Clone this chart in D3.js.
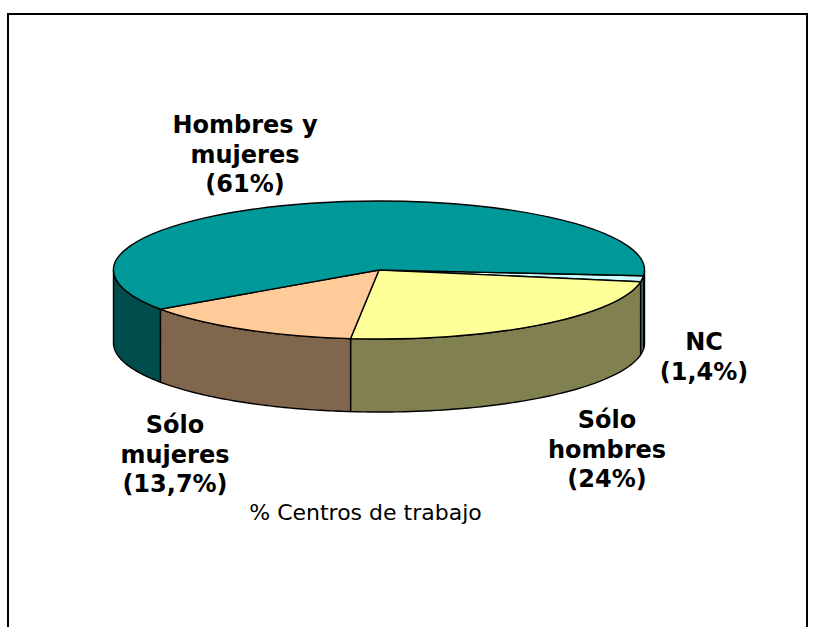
<!DOCTYPE html>
<html>
<head>
<meta charset="utf-8">
<script src="https://cdn.jsdelivr.net/npm/d3@7"></script>
<style>
  body { margin: 0; background: #fff; }
  svg { display: block; }
  text { font-family: "DejaVu Sans", Verdana, sans-serif; fill: #000; }
  .lbl { font-weight: bold; font-size: 24px; text-anchor: middle; }
</style>
</head>
<body>
<div id="pie"></div>
<script>
const categories = ["NC", "Sólo hombres", "Sólo mujeres", "Hombres y mujeres"];
const values = [1.4, 24, 13.7, 61];
const topColors = ["#CCFFFF", "#FFFF99", "#FFCC99", "#009999"];
const sideColors = ["#668080", "#808050", "#80664D", "#004D4D"];
const labelLines = [
  ["NC", "(1,4%)"],
  ["Sólo", "hombres", "(24%)"],
  ["Sólo", "mujeres", "(13,7%)"],
  ["Hombres y", "mujeres", "(61%)"]
];
const labelPos = [[704, 350], [607, 428], [175, 433], [245, 133]];
const caption = "% Centros de trabajo";

var width = 821, height = 627;
var cx = 379, cy = 270, rx = 265.5, ry = 69, depth = 73;
var startDeg = 94.8; // d3 angle, 0 is 12 o'clock
var lineW = 1.4;

var svg = d3.select("#pie").append("svg")
  .attr("width", width)
  .attr("height", height);

// frame, open at the bottom
svg.append("path")
  .attr("d", "M8,627V14H807V627")
  .attr("fill", "none")
  .attr("stroke", "#000")
  .attr("stroke-width", 2);

var pie = d3.pie().sort(null)
  .startAngle(startDeg * Math.PI / 180)
  .endAngle((startDeg + 360) * Math.PI / 180);
var slices = pie(values);

// point on the rim for a d3 pie angle
function rim(a, dy) {
  return [cx + rx * Math.sin(a), cy - ry * Math.cos(a) + dy];
}

// side wall of a slice, only the part facing the viewer (pie angle 90..270 deg)
function wall(a0, a1) {
  var lo = Math.PI / 2, hi = Math.PI * 1.5;
  var parts = [];
  [0, 2 * Math.PI].forEach(function(off) {
    var s = Math.max(a0, lo + off), e = Math.min(a1, hi + off);
    if (e > s) {
      var ts = d3.range(0, 61).map(function(i) { return s + (e - s) * i / 60; });
      var pts = ts.map(function(t) { return rim(t, 0); })
        .concat(ts.slice().reverse().map(function(t) { return rim(t, depth); }));
      parts.push(d3.line()(pts) + "Z");
    }
  });
  return parts.join("");
}

svg.append("g").selectAll("path")
  .data(slices)
  .enter()
  .append("path")
    .attr("d", d => wall(d.startAngle, d.endAngle))
    .attr("fill", (d, i) => sideColors[i])
    .attr("stroke", "#000")
    .attr("stroke-width", lineW);

var arc = d3.arc().innerRadius(0).outerRadius(rx);

svg.append("g")
  .attr("transform", "translate(" + cx + "," + cy + ") scale(1," + (ry / rx) + ")")
  .selectAll("path")
  .data(slices)
  .enter()
  .append("path")
    .attr("d", arc)
    .attr("fill", (d, i) => topColors[i])
    .attr("stroke", "#000")
    .attr("stroke-width", lineW)
    .attr("vector-effect", "non-scaling-stroke");

// labels
labelLines.forEach(function(lines, i) {
  var t = svg.append("text")
    .attr("class", "lbl")
    .attr("x", labelPos[i][0])
    .attr("y", labelPos[i][1]);
  lines.forEach(function(s, j) {
    t.append("tspan")
      .attr("x", labelPos[i][0])
      .attr("dy", j == 0 ? 0 : 29.5)
      .text(s);
  });
});

svg.append("text")
  .attr("x", 365.5)
  .attr("y", 520)
  .attr("text-anchor", "middle")
  .style("font-size", "22px")
  .text(caption);
</script>
</body>
</html>
